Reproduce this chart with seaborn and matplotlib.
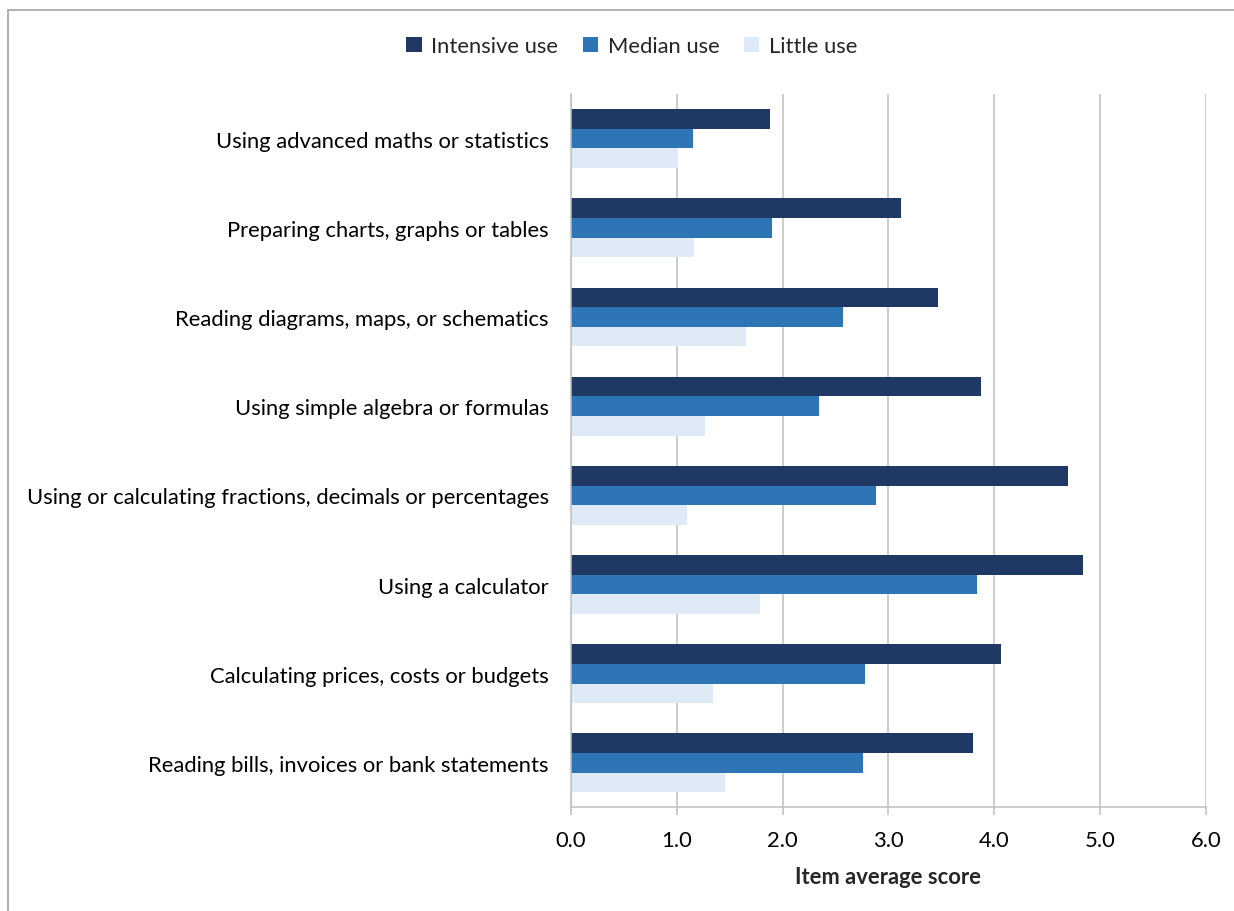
import matplotlib
matplotlib.use("Agg")
import matplotlib.pyplot as plt
import matplotlib.patches as mpatches
from matplotlib.lines import Line2D
import seaborn as sns
import pandas as pd
import numpy as np

categories = [
    "Using advanced maths or statistics",
    "Preparing charts, graphs or tables",
    "Reading diagrams, maps, or schematics",
    "Using simple algebra or formulas",
    "Using or calculating fractions, decimals or percentages",
    "Using a calculator",
    "Calculating prices, costs or budgets",
    "Reading bills, invoices or bank statements",
]
series_names = ["Intensive use", "Median use", "Little use"]
intensive = [1.88, 3.12, 3.47, 3.87, 4.70, 4.84, 4.06, 3.80]
median = [1.15, 1.90, 2.57, 2.34, 2.88, 3.84, 2.78, 2.76]
little = [1.01, 1.16, 1.65, 1.27, 1.10, 1.79, 1.34, 1.46]
x_ticks = [0, 1, 2, 3, 4, 5, 6]
x_label = "Item average score"

colors = ["#203864", "#2E75B6", "#DEEBF7"]
grid_col = "#BFBFBF"
fs = 15.8

rows = []
for name, vals in zip(series_names, [intensive, median, little]):
    for c, v in zip(categories, vals):
        rows.append({"category": c, "series": name, "score": v})
df = pd.DataFrame(rows)

sns.set_theme(style="white")
plt.rcParams["font.family"] = ["Lato", "DejaVu Sans"]

fig = plt.figure(figsize=(12.34, 9.12), dpi=100)
ax = fig.add_axes([0.4627, 0.1135, 0.5146, 0.7823])

sns.barplot(data=df, y="category", x="score", hue="series", order=categories,
            hue_order=series_names, palette=colors, saturation=1, orient="h",
            width=0.66, linewidth=0, edgecolor="none", ax=ax, legend=True)

ax.set_xlim(0, 6)
ax.set_ylim(len(categories) - 0.5, -0.5)
ax.set_xticks(x_ticks)
ax.set_xticklabels([f"{t:.1f}" for t in x_ticks], fontsize=fs, color="#000000")
ax.xaxis.grid(True, color=grid_col, linewidth=1.1)
ax.yaxis.grid(False)
ax.set_axisbelow(True)

ax.set_yticks(range(len(categories)))
ax.set_yticklabels(categories, fontsize=fs, color="#000000")
ax.tick_params(axis="y", which="major", length=0, pad=16)
ax.set_yticks(np.arange(-0.5, len(categories)), minor=True)
ax.tick_params(axis="y", which="minor", length=7, color=grid_col, width=1.1)
ax.tick_params(axis="x", which="major", length=6, color=grid_col, width=1.1,
               direction="out", bottom=True, pad=10)

for side in ["top", "right"]:
    ax.spines[side].set_visible(False)
for side in ["left", "bottom"]:
    ax.spines[side].set_color(grid_col)
    ax.spines[side].set_linewidth(1.1)

ax.set_ylabel("")
ax.set_xlabel(x_label, fontsize=fs, fontweight="bold", labelpad=12)

handles = [mpatches.Patch(facecolor=c, edgecolor="none") for c in colors]
ax.legend_.remove()
fig.legend(handles, series_names, loc="center", bbox_to_anchor=(0.512, 0.948),
           ncol=3, frameon=False, fontsize=fs, handlelength=0.7,
           handleheight=0.7, handletextpad=0.45, columnspacing=1.1)

# chart-area frame along the top and left edges
frame_kw = dict(transform=fig.transFigure, color="#A6A6A6", linewidth=1.2)
fig.add_artist(Line2D([0.0065, 1.0], [0.9874, 0.9874], **frame_kw))
fig.add_artist(Line2D([0.0065, 0.0065], [0.0, 0.9874], **frame_kw))

fig.savefig("out.png", dpi=100, facecolor="white")
